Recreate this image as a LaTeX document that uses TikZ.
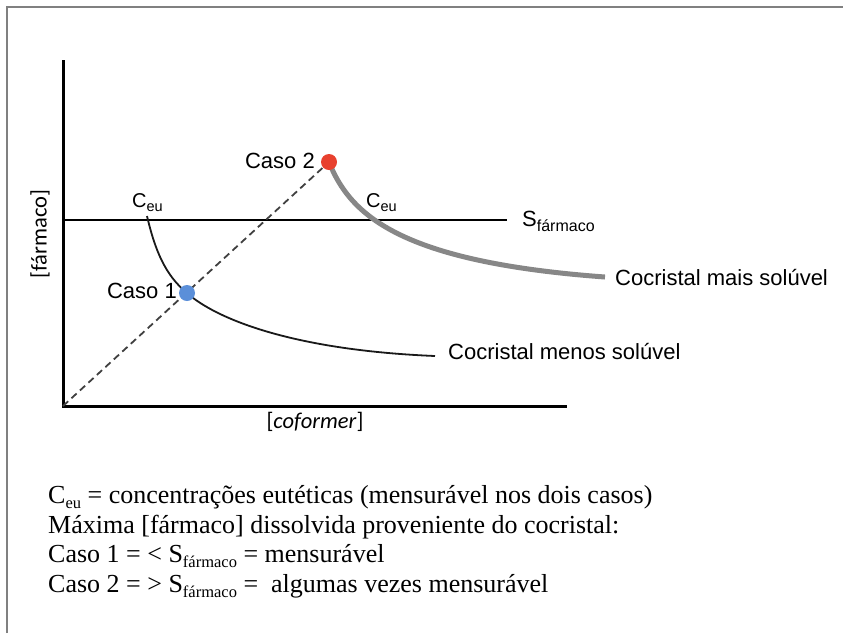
\documentclass[tikz,border=0pt]{standalone}
\usepackage{fontspec}
\setmainfont{Liberation Serif}
\newfontfamily\arialfont{Liberation Sans}
\newfontfamily\calibrifont{Carlito}
\usepackage{tikz}
\definecolor{caso_red}{HTML}{E8402E}
\definecolor{caso_blue}{HTML}{5B8FD9}
\definecolor{frame_gray}{HTML}{808080}
\definecolor{curve_gray}{HTML}{878787}
\definecolor{dash_gray}{HTML}{404040}

\newcommand{\lowsub}[3]{\raisebox{-#1}{\fontsize{#2}{#2}\selectfont #3}}

\tikzset{
    axisline/.style={line width=3pt, black},
    dashline/.style={line width=1.8pt, dash_gray, dash pattern=on 7pt off 4.5pt},
    casodot/.style={circle, inner sep=0pt, minimum size=16pt},
    lbl/.style={font=\arialfont\fontsize{22}{26}\selectfont, inner sep=0pt},
    axlbl/.style={font=\calibrifont\fontsize{22.5}{26}\selectfont, inner sep=0pt},
    legend/.style={font=\fontsize{26}{30}\selectfont, inner sep=0pt, anchor=base west}
}

\begin{document}
\begin{tikzpicture}[x=1pt, y=-1pt]
        \useasboundingbox (0,0) rectangle (843,633);

        % frame
        \draw [frame_gray, line width=2.5pt] (7,633) -- (7,7) -- (843,7);

        \coordinate (o) at (63,406);
        \coordinate (ytop) at (63,60);
        \coordinate (xend) at (567,406);
        \coordinate (sl) at (63,220);
        \coordinate (sr) at (507,220);
        \coordinate (p1) at (187,293);
        \coordinate (p2) at (329,162);
        \coordinate (eu1) at (147,216);
        \coordinate (m1) at (435,356);
        \coordinate (m2) at (605,277);

        \draw [axisline] (ytop) -- (o) -- (xend);
        \draw [line width=1.6pt] (sl) -- (sr);
        \draw [dashline] (o) -- (p2);

        % cocristal curves
        \draw [line width=1.8pt, black!90] (eu1) .. controls (155,250) and (165,275) .. (p1)
            .. controls (215,318) and (290,350) .. (m1);
        \draw [line width=5pt, curve_gray] (p2) .. controls (350,215) and (400,262) .. (m2);

        \node [casodot, fill=caso_red] (caso2) at (p2) {};
        \node [casodot, fill=caso_blue] (caso1) at (p1) {};

        \node [lbl, anchor=base east] (caso2txt) at (315,168) {Caso 2};
        \node [lbl, anchor=base east] (caso1txt) at (177,298) {Caso 1};
        \node [lbl, anchor=base west, font=\arialfont\fontsize{20}{24}\selectfont] (ceu1) at (132,207) {C\lowsub{4pt}{14.5}{eu}};
        \node [lbl, anchor=base west, font=\arialfont\fontsize{20}{24}\selectfont] (ceu2) at (366,207) {C\lowsub{4pt}{14.5}{eu}};
        \node [lbl, anchor=base west] (sfarm) at (522,226) {S\lowsub{5pt}{16}{fármaco}};
        \node [lbl, anchor=base west] (mais) at (615,285) {Cocristal mais solúvel};
        \node [lbl, anchor=base west] (menos) at (448,359) {Cocristal menos solúvel};

        \node [axlbl, anchor=base] (xlbl) at (315,428) {[\textit{coformer}]};
        \node [axlbl, rotate=90] (ylbl) at (40,234) {[fármaco]};

        \node [legend] (leg1) at (48,503) {C\lowsub{5pt}{16.5}{eu} = concentrações eutéticas (mensurável nos dois casos)};
        \node [legend] (leg2) at (48,533) {Máxima [fármaco] dissolvida proveniente do cocristal:};
        \node [legend] (leg3) at (48,562) {Caso 1 = < S\lowsub{5pt}{16.5}{fármaco} = mensurável};
        \node [legend] (leg4) at (48,592) {Caso 2 = > S\lowsub{5pt}{16.5}{fármaco} = \ algumas vezes mensurável};

\end{tikzpicture}
\end{document}
